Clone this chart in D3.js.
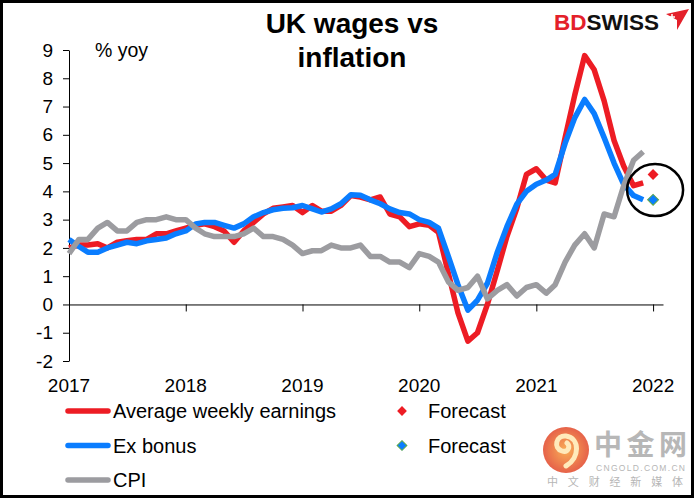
<!DOCTYPE html>
<html>
<head>
<meta charset="utf-8">
<script src="https://cdn.jsdelivr.net/npm/d3@7"></script>
<style>
  body { margin: 0; background: #fff; }
  svg { display: block; font-family: "Liberation Sans", Arial, sans-serif; }
</style>
</head>
<body>
<svg id="chart" width="700" height="499"></svg>
<script>
// monthly observations, Jan 2017 .. Dec 2021
const months = d3.timeMonth.range(new Date(2017, 0, 1), new Date(2022, 0, 1));

const earnings = [
  2.0, 2.1, 2.1, 2.15, 2.0, 2.2, 2.25, 2.3, 2.3, 2.5, 2.5, 2.6,
  2.7, 2.8, 2.85, 2.75, 2.6, 2.2, 2.6, 2.9, 3.2, 3.4, 3.45, 3.5,
  3.25, 3.5, 3.3, 3.3, 3.5, 3.85, 3.8, 3.7, 3.8, 3.2, 3.1, 2.75,
  2.85, 2.8, 2.55, 1.1, -0.3, -1.3, -1.0, 0.0, 1.2, 2.4, 3.4, 4.6,
  4.8, 4.4, 4.3, 5.9, 7.4, 8.8, 8.3, 7.2, 5.8, 4.9, 4.2, 4.3
];
const exBonus = [
  2.3, 2.05, 1.85, 1.85, 2.0, 2.1, 2.2, 2.15, 2.25, 2.3, 2.35, 2.5,
  2.6, 2.85, 2.9, 2.9, 2.8, 2.7, 2.85, 3.1, 3.25, 3.35, 3.4, 3.42,
  3.5, 3.38, 3.27, 3.38, 3.56, 3.88, 3.86, 3.7, 3.56, 3.38, 3.25, 3.2,
  3.0, 2.9, 2.7, 1.7, 0.7, -0.2, 0.15, 0.75, 1.85, 2.75, 3.55, 4.0,
  4.25, 4.4, 4.6, 5.7, 6.6, 7.25, 6.75, 5.9, 5.0, 4.25, 3.85, 3.7
];
const cpi = [
  1.8, 2.3, 2.3, 2.7, 2.9, 2.6, 2.6, 2.9, 3.0, 3.0, 3.1, 3.0,
  3.0, 2.7, 2.5, 2.4, 2.4, 2.4, 2.5, 2.7, 2.4, 2.4, 2.3, 2.1,
  1.8, 1.9, 1.9, 2.1, 2.0, 2.0, 2.1, 1.7, 1.7, 1.5, 1.5, 1.3,
  1.8, 1.7, 1.5, 0.8, 0.5, 0.6, 1.0, 0.2, 0.5, 0.7, 0.3, 0.6,
  0.7, 0.4, 0.7, 1.5, 2.1, 2.5, 2.0, 3.2, 3.1, 4.2, 5.1, 5.4
];

const forecastDate = new Date(2022, 0, 1);
const forecastEarnings = 4.6;
const forecastExBonus = 3.7;

const years = [2017, 2018, 2019, 2020, 2021, 2022];
const yTicks = [-2, -1, 0, 1, 2, 3, 4, 5, 6, 7, 8, 9];

const RED = '#ED1C24';
const BLUE = '#0A7DFF';
const GREY = '#9C9CA0';

const plot = { left: 69, right: 663, top: 50, bottom: 361 };

const svg = d3.select('#chart');

// frame
svg.append('rect')
  .attr('x', 1.5).attr('y', 1.5)
  .attr('width', 691).attr('height', 495)
  .attr('fill', 'none')
  .attr('stroke', '#000')
  .attr('stroke-width', 3);

const x = d3.scaleTime()
  .domain([new Date(2017, 0, 1), new Date(2022, 1, 1)])
  .range([plot.left, plot.right]);
const y = d3.scaleLinear()
  .domain([-2, 9])
  .range([plot.bottom, plot.top]);

// y axis
svg.append('g')
  .attr('transform', `translate(${plot.left},0)`)
  .call(d3.axisLeft(y)
    .tickValues(yTicks)
    .tickSize(6)
    .tickSizeOuter(0)
    .tickPadding(10)
    .tickFormat(d => String(d)))
  .call(g => g.selectAll('text')
    .attr('font-size', 19)
    .attr('font-family', '"Liberation Sans", Arial, sans-serif')
    .attr('fill', '#000'));

// x axis at zero
const yearDates = years.map(yr => new Date(yr, 0, 1));
svg.append('g')
  .attr('transform', `translate(0,${y(0)})`)
  .call(d3.axisBottom(x)
    .tickValues(yearDates)
    .tickSize(7)
    .tickSizeOuter(0)
    .tickFormat(''));

// year labels at the bottom of the plot
svg.append('g')
  .selectAll('text')
  .data(yearDates)
  .enter().append('text')
    .attr('x', d => x(d))
    .attr('y', plot.bottom + 31)
    .attr('text-anchor', 'middle')
    .attr('font-size', 19)
    .text(d => d.getFullYear());

svg.append('text')
  .attr('x', 95)
  .attr('y', 57)
  .attr('font-size', 19.5)
  .text('% yoy');

// title
const title = svg.append('text')
  .attr('text-anchor', 'middle')
  .attr('font-size', 28)
  .attr('font-weight', 'bold');
title.append('tspan').attr('x', 352).attr('y', 33).text('UK wages vs');
title.append('tspan').attr('x', 352).attr('y', 67).text('inflation');

// BDSWISS logo
const logo = svg.append('text')
  .attr('x', 554)
  .attr('y', 29.5)
  .attr('font-size', 22.5)
  .attr('font-weight', 'bold');
logo.append('tspan').attr('fill', '#E4202A').text('BD');
logo.append('tspan').attr('fill', '#111').text('SWISS');
svg.append('path')
  .attr('d', 'M666,14 L689,9 L677,30 L677,20 Z')
  .attr('fill', '#E4202A');
svg.append('path')
  .attr('d', 'M669,17 h6 M672,14 v6')
  .attr('stroke', '#fff')
  .attr('stroke-width', 1.5);

// lines
const line = d3.line()
  .x((d, i) => x(months[i]))
  .y(d => y(d));

const series = [
  { values: earnings, color: RED },
  { values: exBonus, color: BLUE },
  { values: cpi, color: GREY }
];

svg.append('g')
  .selectAll('path')
  .data(series)
  .enter().append('path')
    .attr('d', d => line(d.values))
    .attr('fill', 'none')
    .attr('stroke', d => d.color)
    .attr('stroke-width', 5.5)
    .attr('stroke-linejoin', 'round');

// forecasts
const diamond = d3.symbol(d3.symbolSquare, 60);
const forecasts = [
  { value: forecastEarnings, color: RED, stroke: 'none' },
  { value: forecastExBonus, color: BLUE, stroke: '#5FA84A' }
];
svg.append('g')
  .selectAll('path')
  .data(forecasts)
  .enter().append('path')
    .attr('d', diamond)
    .attr('transform', d => `translate(${x(forecastDate)},${y(d.value)}) rotate(45)`)
    .attr('fill', d => d.color)
    .attr('stroke', d => d.stroke)
    .attr('stroke-width', 1);

// highlight ellipse
svg.append('ellipse')
  .attr('cx', x(forecastDate) + 2)
  .attr('cy', (y(forecastEarnings) + y(forecastExBonus)) / 2 + 3)
  .attr('rx', 28)
  .attr('ry', 26)
  .attr('fill', 'none')
  .attr('stroke', '#000')
  .attr('stroke-width', 2.5);

// legend
const legendLines = [
  { label: 'Average weekly earnings', color: RED },
  { label: 'Ex bonus', color: BLUE },
  { label: 'CPI', color: GREY }
];
const lg = svg.append('g');
legendLines.forEach((d, i) => {
  const ly = 411 + i * 34.5;
  lg.append('line')
    .attr('x1', 68).attr('x2', 108)
    .attr('y1', ly).attr('y2', ly)
    .attr('stroke', d.color)
    .attr('stroke-width', 5.5)
    .attr('stroke-linecap', 'round');
  lg.append('text')
    .attr('x', 113)
    .attr('y', ly + 7)
    .attr('font-size', 20)
    .text(d.label);
});
forecasts.forEach((d, i) => {
  const ly = 411 + i * 34.5;
  lg.append('path')
    .attr('d', d3.symbol(d3.symbolSquare, 48)())
    .attr('transform', `translate(402,${ly}) rotate(45)`)
    .attr('fill', d.color)
    .attr('stroke', d.stroke)
    .attr('stroke-width', 1);
  lg.append('text')
    .attr('x', 428)
    .attr('y', ly + 7)
    .attr('font-size', 20)
    .text('Forecast');
});

// watermark
const defs = svg.append('defs');
const grad = defs.append('radialGradient').attr('id', 'wm');
grad.append('stop').attr('offset', '0%').attr('stop-color', '#F9A13A');
grad.append('stop').attr('offset', '100%').attr('stop-color', '#E2472A');
const wm = svg.append('g').attr('opacity', 0.85);
wm.append('circle')
  .attr('cx', 566).attr('cy', 450).attr('r', 23)
  .attr('fill', 'url(#wm)');
wm.append('path')
  .attr('d', 'M566,466 C580,458 580,438 566,436 C556,435 553,448 562,451 C568,453 571,446 567,443')
  .attr('fill', 'none')
  .attr('stroke', '#FFE7B0')
  .attr('stroke-width', 5)
  .attr('stroke-linecap', 'round');
wm.append('text')
  .attr('x', 594).attr('y', 455)
  .attr('font-size', 28)
  .attr('font-weight', 'bold')
  .attr('font-family', '"Noto Sans CJK SC", sans-serif')
  .attr('fill', '#ABABAB')
  .attr('textLength', 93)
  .text('中金网');
wm.append('text')
  .attr('x', 596).attr('y', 470.5)
  .attr('font-size', 8.5)
  .attr('fill', '#AAAAAA')
  .attr('textLength', 89)
  .text('CNGOLD.COM.CN');
wm.append('text')
  .attr('x', 547).attr('y', 486)
  .attr('font-size', 11)
  .attr('font-family', '"Noto Sans CJK SC", sans-serif')
  .attr('fill', '#AAAAAA')
  .attr('textLength', 136)
  .text('中文财经新媒体');
</script>
</body>
</html>
